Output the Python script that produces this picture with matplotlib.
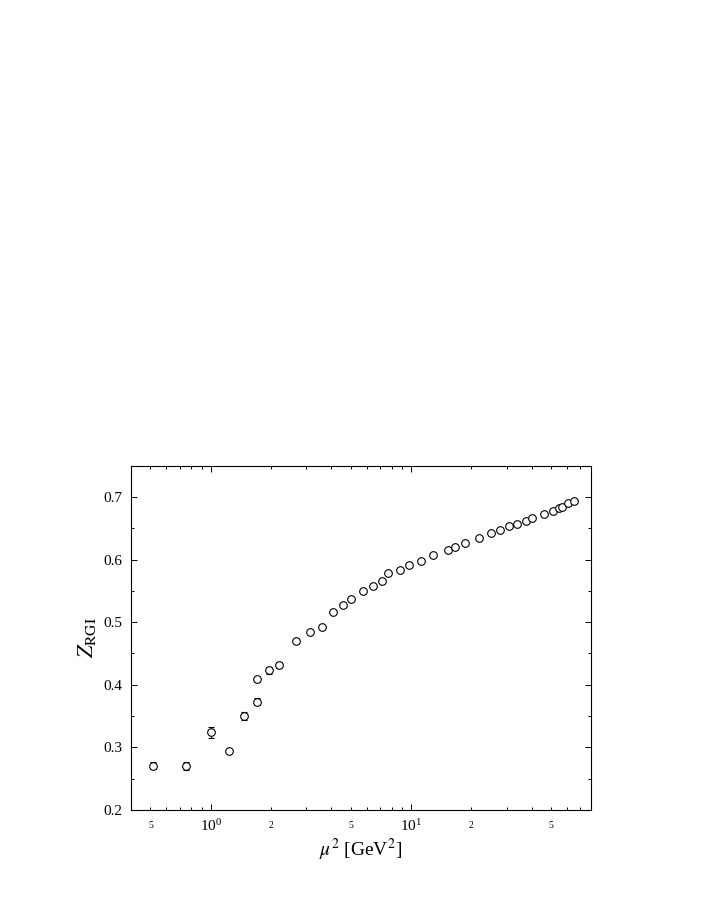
import numpy as np
import matplotlib
matplotlib.use('Agg')
import matplotlib.pyplot as plt
from matplotlib.ticker import LogLocator, FuncFormatter, MultipleLocator

# data
mu2 = [0.514, 0.750, 1.00, 1.23, 1.46, 1.71, 1.71, 1.95, 2.19,
       2.66, 3.14, 3.61, 4.10, 4.56, 5.04, 5.74, 6.46, 7.17, 7.68,
       8.84, 9.77, 11.16, 12.88, 15.3, 16.5, 18.5, 21.8, 25.2, 27.7,
       30.8, 33.8, 37.3, 40.4, 45.9, 51.1, 54.5, 56.7, 60.7, 64.8]
z_rgi = [0.271, 0.270, 0.324, 0.295, 0.350, 0.373, 0.409, 0.423, 0.432,
         0.470, 0.484, 0.493, 0.516, 0.527, 0.537, 0.549, 0.558, 0.566, 0.578,
         0.584, 0.592, 0.598, 0.607, 0.616, 0.620, 0.626, 0.634, 0.642, 0.648,
         0.653, 0.657, 0.662, 0.667, 0.672, 0.678, 0.682, 0.684, 0.691, 0.694]
# errors only visible on the low points, the rest are hidden by the marker
z_err = [0.005, 0.006, 0.009, 0.0, 0.007, 0.006, 0.004, 0.005, 0.005,
         0.0, 0.0, 0.0, 0.0, 0.0, 0.0, 0.0, 0.0, 0.0, 0.0,
         0.0, 0.0, 0.0, 0.0, 0.0, 0.0, 0.0, 0.0, 0.0, 0.0,
         0.0, 0.0, 0.0, 0.0, 0.0, 0.0, 0.0, 0.0, 0.0, 0.0]

plt.rcParams['font.family'] = ['Liberation Serif', 'DejaVu Serif']
plt.rcParams['mathtext.fontset'] = 'stix'

fig = plt.figure(figsize=(7.08, 9.17), dpi=100)
ax = fig.add_axes([0.185, 0.1167, 0.6495, 0.3755])

x = np.array(mu2)
y = np.array(z_rgi)
e = np.array(z_err)
m = e > 0
ax.errorbar(x[m], y[m], yerr=e[m], fmt='none', ecolor='black',
            elinewidth=0.8, capsize=2.5, capthick=0.8)
ax.plot(x, y, 'o', mfc='white', mec='black', ms=5.5, mew=0.8)

ax.set_xscale('log')
ax.set_xlim(0.4, 79)
ax.set_ylim(0.2, 0.75)

ax.xaxis.set_major_locator(LogLocator(base=10))
ax.xaxis.set_minor_locator(LogLocator(base=10, subs=np.arange(2, 10)))


def minor_lab(v, pos):
    mm = v / 10 ** np.floor(np.log10(v) + 1e-9)
    if abs(mm - 2) < 0.01 or abs(mm - 5) < 0.01:
        return '%d' % round(mm)
    return ''


ax.xaxis.set_minor_formatter(FuncFormatter(minor_lab))
ax.yaxis.set_major_locator(MultipleLocator(0.1))
ax.yaxis.set_minor_locator(MultipleLocator(0.05))
ax.yaxis.set_major_formatter(FuncFormatter(lambda v, p: '%.1f' % v))

ax.tick_params(which='both', direction='in', top=True, right=True, width=0.7)
ax.tick_params(which='major', length=4, labelsize=11, pad=6)
ax.tick_params(which='minor', length=2, labelsize=7, pad=8)
for s in ax.spines.values():
    s.set_linewidth(0.8)

ax.set_xlabel(r'$\mu^2$ [GeV$^2$]', fontsize=14, labelpad=2)
ax.set_ylabel(r'$Z_{\mathrm{RGI}}$', fontsize=16, labelpad=4)

fig.savefig('out.png', dpi=100)
